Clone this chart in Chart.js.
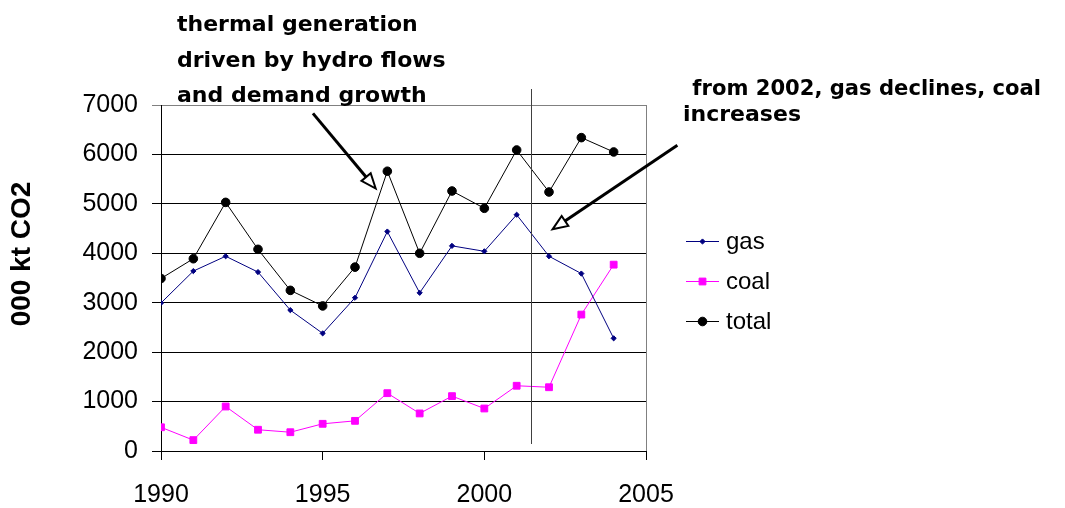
<!DOCTYPE html>
<html>
<head>
<meta charset="utf-8">
<script src="https://cdn.jsdelivr.net/npm/chart.js@4/dist/chart.umd.min.js"></script>
<style>
  html, body { margin: 0; padding: 0; background: #fff; }
  #wrap { width: 1065px; height: 508px; }
</style>
</head>
<body>
<div id="wrap"><canvas id="c" width="1065" height="508"></canvas></div>
<script>
// CO2 emissions from thermal generation, thousand kt
const years = [1990, 1991, 1992, 1993, 1994, 1995, 1996, 1997, 1998, 1999, 2000, 2001, 2002, 2003, 2004];
const gas   = [2995, 3640, 3940, 3620, 2850, 2380, 3100, 4440, 3200, 4150, 4040, 4780, 3940, 3590, 2280];
const coal  = [480, 220, 900, 430, 380, 550, 610, 1170, 760, 1110, 860, 1320, 1290, 2760, 3770];
const total = [3490, 3890, 5030, 4080, 3250, 2935, 3720, 5660, 4000, 5260, 4910, 6090, 5240, 6340, 6050];

const seriesNames = ['gas', 'coal', 'total'];
const yAxisTitle = '000 kt CO2';
const noteLeft = ['thermal generation', 'driven by hydro flows', 'and demand growth'];
const noteRight = [' from 2002, gas declines, coal', 'increases'];

// where the 2002 policy divider sits on the year axis
const dividerYear = 2001.43;
// annotation arrows, in data coordinates: [fromX, fromY, toX, toY]
const arrowLeft  = [1994.70, 6830, 1996.64, 5310];
const arrowRight = [2005.97, 6185, 2002.11, 4485];

const pts = arr => years.map((yr, i) => ({ x: yr, y: arr[i] }));

const tickFont = { family: '"Liberation Sans", Arial, sans-serif', size: 25 };

function drawArrow(ctx, x1, y1, x2, y2) {
  const ang = Math.atan2(y2 - y1, x2 - x1);
  const len = 15, half = 6;
  const bx = x2 - Math.cos(ang) * len, by = y2 - Math.sin(ang) * len;
  ctx.save();
  ctx.strokeStyle = '#000';
  ctx.lineWidth = 3;
  ctx.beginPath();
  ctx.moveTo(x1, y1);
  ctx.lineTo(bx, by);
  ctx.stroke();
  ctx.beginPath();
  ctx.moveTo(x2, y2);
  ctx.lineTo(bx + Math.sin(ang) * half, by - Math.cos(ang) * half);
  ctx.lineTo(bx - Math.sin(ang) * half, by + Math.cos(ang) * half);
  ctx.closePath();
  ctx.fillStyle = '#fff';
  ctx.fill();
  ctx.lineWidth = 2;
  ctx.stroke();
  ctx.restore();
}

const overlay = {
  id: 'overlay',
  afterDraw(chart) {
    const { ctx, chartArea } = chart;
    const xs = chart.scales.x, ys = chart.scales.y;

    // divider line
    const dx = Math.round(xs.getPixelForValue(dividerYear)) + 0.5;
    ctx.save();
    ctx.strokeStyle = '#404040';
    ctx.lineWidth = 1;
    ctx.beginPath();
    ctx.moveTo(dx, chartArea.top - 16);
    ctx.lineTo(dx, chartArea.bottom - 7);
    ctx.stroke();
    ctx.restore();

    // arrows
    [arrowLeft, arrowRight].forEach(a => {
      drawArrow(ctx, xs.getPixelForValue(a[0]), ys.getPixelForValue(a[1]),
                     xs.getPixelForValue(a[2]), ys.getPixelForValue(a[3]));
    });

    // notes
    ctx.save();
    ctx.fillStyle = '#000';
    ctx.font = 'bold 22px "DejaVu Sans", Verdana, sans-serif';
    ctx.textAlign = 'left';
    ctx.textBaseline = 'alphabetic';
    noteLeft.forEach((t, i) => ctx.fillText(t, 177, 31 + i * 35.5));
    ctx.fillText(noteRight[0], 685, 95, 356);
    ctx.fillText(noteRight[1], 683, 121);
    ctx.restore();

    // y axis title
    ctx.save();
    ctx.translate(22, 254);
    ctx.rotate(-Math.PI / 2);
    ctx.font = 'bold 28px "Liberation Sans", Arial, sans-serif';
    ctx.fillStyle = '#000';
    ctx.textAlign = 'center';
    ctx.textBaseline = 'middle';
    ctx.fillText(yAxisTitle, 0, 0);
    ctx.restore();

    // legend
    const lx = 686, lw = 33, rowY = [241, 281, 321];
    chart.data.datasets.forEach((ds, i) => {
      const y = rowY[i];
      ctx.save();
      ctx.strokeStyle = ds.borderColor;
      ctx.lineWidth = 1;
      ctx.beginPath();
      ctx.moveTo(lx, y + 0.5);
      ctx.lineTo(lx + lw, y + 0.5);
      ctx.stroke();
      ctx.fillStyle = ds.pointBackgroundColor;
      ctx.strokeStyle = ds.pointBorderColor;
      Chart.helpers.drawPoint(ctx, {
        pointStyle: ds.pointStyle, radius: ds.pointRadius, rotation: 0, borderWidth: 1
      }, lx + lw / 2, y + 0.5);
      ctx.fillStyle = '#000';
      ctx.font = '24px "Liberation Sans", Arial, sans-serif';
      ctx.textAlign = 'left';
      ctx.textBaseline = 'middle';
      ctx.fillText(ds.label, 726, y + 1);
      ctx.restore();
    });
  }
};

new Chart(document.getElementById('c'), {
  type: 'line',
  data: {
    datasets: [
      {
        label: seriesNames[0], data: pts(gas),
        borderColor: '#000080', borderWidth: 1,
        pointStyle: 'rectRot', pointRadius: 2.6,
        pointBackgroundColor: '#000080', pointBorderColor: '#000080', pointBorderWidth: 1
      },
      {
        label: seriesNames[1], data: pts(coal),
        borderColor: '#ff00ff', borderWidth: 1,
        pointStyle: 'rect', pointRadius: 4.8,
        pointBackgroundColor: '#ff00ff', pointBorderColor: '#ff00ff', pointBorderWidth: 1
      },
      {
        label: seriesNames[2], data: pts(total),
        borderColor: '#000000', borderWidth: 1,
        pointStyle: 'circle', pointRadius: 4.3,
        pointBackgroundColor: '#000000', pointBorderColor: '#000000', pointBorderWidth: 1
      }
    ]
  },
  options: {
    responsive: false,
    animation: false,
    devicePixelRatio: 1,
    layout: { padding: { top: 105, right: 419, bottom: 0, left: 0 } },
    plugins: { legend: { display: false }, tooltip: { enabled: false } },
    elements: { line: { tension: 0 } },
    scales: {
      x: {
        type: 'linear', min: 1990, max: 2005,
        ticks: {
          stepSize: 5, color: '#000', font: tickFont, padding: 20,
          maxRotation: 0, autoSkip: false, callback: v => String(v)
        },
        grid: {
          color: c => (c.tick && c.tick.value === 2005) ? '#808080' : 'rgba(0,0,0,0)',
          tickColor: '#000', tickLength: 9, drawOnChartArea: true
        },
        border: { color: '#000', width: 1 },
        afterFit: s => { s.height = 57; }
      },
      y: {
        min: 0, max: 7000,
        ticks: {
          stepSize: 1000, color: '#000', font: tickFont, padding: 14,
          callback: v => String(v)
        },
        grid: {
          color: c => (c.tick && c.tick.value === 7000) ? '#808080' : '#000',
          tickLength: 9
        },
        border: { color: '#000', width: 1 },
        afterFit: s => { s.width = 161; }
      }
    }
  },
  plugins: [overlay]
});
</script>
</body>
</html>
